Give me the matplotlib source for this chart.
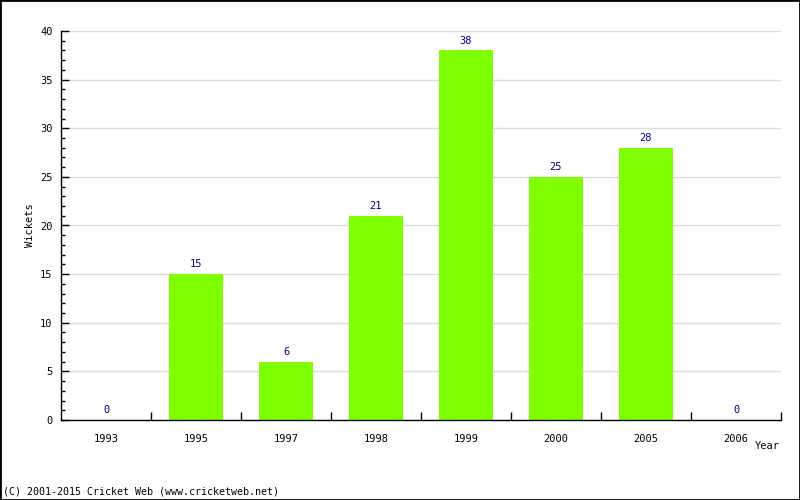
import matplotlib.pyplot as plt
from matplotlib.ticker import MultipleLocator
from matplotlib.patches import Rectangle

years = ['1993', '1995', '1997', '1998', '1999', '2000', '2005', '2006']
wickets = [0, 15, 6, 21, 38, 25, 28, 0]

plt.rcParams['font.family'] = 'DejaVu Sans Mono'

fig = plt.figure(figsize=(8, 5), dpi=100)
ax = fig.add_axes([61 / 800, 80 / 500, 720 / 800, 389 / 500])

x = range(len(years))
ax.bar(x, wickets, width=0.61, color='#80ff00', zorder=2)
for i, w in zip(x, wickets):
    ax.annotate(str(w), (i, w), xytext=(0, 7), textcoords='offset points',
                ha='center', va='center', fontsize=7.5, color='#000080')

ax.set_xlim(-0.5, len(years) - 0.5)
ax.set_ylim(0, 40)
ax.yaxis.set_major_locator(MultipleLocator(5))
ax.yaxis.set_minor_locator(MultipleLocator(1))
ax.grid(axis='y', color='#dddddd', linewidth=1, zorder=0)

ax.set_xticks([i + 0.5 for i in x])
ax.set_xticklabels([])
ax.set_xticks(list(x), minor=True)
ax.set_xticklabels(years, minor=True, fontsize=7.5)
ax.tick_params(axis='x', which='major', direction='in', length=6, width=1)
ax.tick_params(axis='x', which='minor', length=0, pad=10)
ax.tick_params(axis='y', which='major', direction='in', length=6, width=1, labelsize=7.5, pad=6)
ax.tick_params(axis='y', which='minor', direction='in', length=3, width=1)

for s in ['top', 'right']:
    ax.spines[s].set_visible(False)
for s in ['left', 'bottom']:
    ax.spines[s].set_linewidth(1)

fig.text(30 / 800, 1 - 225 / 500, 'Wickets', rotation=90, ha='center', va='center', fontsize=7.5)
fig.text(780 / 800, 1 - 446 / 500, 'Year', ha='right', va='center', fontsize=7.5)
fig.text(3 / 800, 1 - 492 / 500, '(C) 2001-2015 Cricket Web (www.cricketweb.net)', ha='left', va='center', fontsize=7.2)

fig.patches.append(Rectangle((0, 0), 1, 1, transform=fig.transFigure, fill=False,
                             edgecolor='black', linewidth=2))

fig.savefig('out.png', dpi=100)
